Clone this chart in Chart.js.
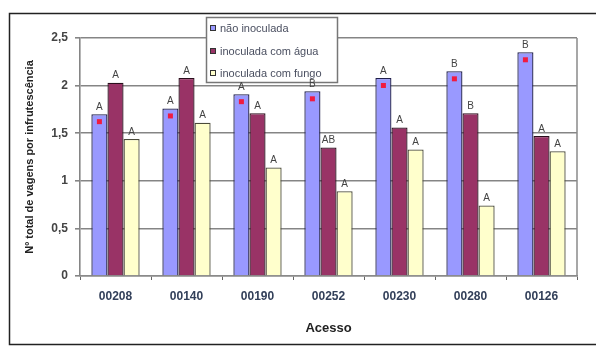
<!DOCTYPE html>
<html>
<head>
<meta charset="utf-8">
<script src="https://cdn.jsdelivr.net/npm/chart.js@4"></script>
<style>
  html, body { margin: 0; padding: 0; background: #fff; }
  #wrap { width: 596px; height: 347px; }
</style>
</head>
<body>
<div id="wrap"><canvas id="c" width="596" height="347"></canvas></div>
<script>
// Acessos avaliados
const categories = ['00208', '00140', '00190', '00252', '00230', '00280', '00126'];

// Nº total de vagens por infrutescência, por tratamento
const naoInoculada   = [1.70, 1.76, 1.91, 1.94, 2.08, 2.15, 2.35];
const inoculadaAgua  = [2.03, 2.08, 1.71, 1.35, 1.56, 1.71, 1.47];
const inoculadaFungo = [1.44, 1.61, 1.14, 0.89, 1.33, 0.74, 1.31];

// Letras do teste de médias, acima de cada barra
const letrasNao   = ['A', 'A', 'A', 'B', 'A', 'B', 'B'];
const letrasAgua  = ['A', 'A', 'A', 'AB', 'A', 'B', 'A'];
const letrasFungo = ['A', 'A', 'A', 'A', 'A', 'A', 'A'];

// Diferença significativa (marca vermelha) na barra "não inoculada"
const marcaNao = [true, true, true, true, true, true, true];

const seriesNames = ['não inoculada', 'inoculada com água', 'inoculada com fungo'];
const yTicks = [0, 0.5, 1, 1.5, 2, 2.5];

const fills   = ['#9999ff', '#993366', '#ffffcc'];
const borders = ['#1f1f4a', '#2a0e1c', '#4a4a3a'];

const letterSets = [letrasNao, letrasAgua, letrasFungo];

const decorations = {
  id: 'decorations',
  beforeDraw(chart) {
    const ctx = chart.ctx;
    ctx.save();
    ctx.fillStyle = '#ffffff';
    ctx.fillRect(0, 0, chart.width, chart.height);
    ctx.restore();
  },
  afterDraw(chart) {
    const ctx = chart.ctx;
    const area = chart.chartArea;
    ctx.save();

    // right edge of the plot frame
    ctx.strokeStyle = '#8a8a8a';
    ctx.lineWidth = 1.5;
    ctx.beginPath();
    ctx.moveTo(area.right, area.top);
    ctx.lineTo(area.right, area.bottom);
    ctx.stroke();

    // legend box
    const lx = 206.5, ly = 17.5, lw = 131, lh = 65;
    ctx.fillStyle = '#ffffff';
    ctx.fillRect(lx, ly, lw, lh);
    ctx.strokeStyle = '#777';
    ctx.lineWidth = 1.5;
    ctx.strokeRect(lx, ly, lw, lh);
    ctx.font = '11px Arial, "Liberation Sans", sans-serif';
    ctx.textAlign = 'left';
    ctx.textBaseline = 'middle';
    const rowY = [28, 51, 73];
    seriesNames.forEach((name, k) => {
      ctx.fillStyle = fills[k];
      ctx.fillRect(210, rowY[k] - 3, 6, 6);
      ctx.strokeStyle = '#333';
      ctx.lineWidth = 1;
      ctx.strokeRect(210.5, rowY[k] - 2.5, 5, 5);
      ctx.fillStyle = '#4a4f60';
      ctx.fillText(name, 220, rowY[k] + 0.5);
    });

    // letters above bars
    ctx.font = '10px Arial, "Liberation Sans", sans-serif';
    ctx.fillStyle = '#444';
    ctx.textAlign = 'center';
    ctx.textBaseline = 'bottom';
    chart.data.datasets.forEach((ds, di) => {
      const meta = chart.getDatasetMeta(di);
      meta.data.forEach((bar, i) => {
        ctx.fillText(letterSets[di][i], bar.x, bar.y - 2);
      });
    });

    // red marks on the "não inoculada" bars
    const meta0 = chart.getDatasetMeta(0);
    ctx.fillStyle = '#f01c40';
    meta0.data.forEach((bar, i) => {
      if (!marcaNao[i]) return;
      ctx.fillRect(bar.x - 2.5, bar.y + 5, 5, 5);
    });

    // outer frame
    ctx.strokeStyle = '#222';
    ctx.lineWidth = 1.5;
    ctx.beginPath();
    ctx.moveTo(chart.width + 2, 13.5);
    ctx.lineTo(9.5, 13.5);
    ctx.lineTo(9.5, 344.5);
    ctx.lineTo(chart.width + 2, 344.5);
    ctx.stroke();

    ctx.restore();
  }
};

new Chart(document.getElementById('c'), {
  type: 'bar',
  data: {
    labels: categories,
    datasets: [naoInoculada, inoculadaAgua, inoculadaFungo].map((vals, k) => ({
      label: seriesNames[k],
      data: vals,
      backgroundColor: fills[k],
      borderColor: borders[k],
      borderWidth: 1.3,
      borderSkipped: 'bottom',
      categoryPercentage: 0.68,
      barPercentage: 1.0
    }))
  },
  options: {
    responsive: false,
    animation: false,
    devicePixelRatio: 1,
    layout: { padding: { top: 38, right: 19, bottom: 0, left: 0 } },
    plugins: {
      legend: { display: false },
      tooltip: { enabled: false }
    },
    scales: {
      x: {
        offset: true,
        grid: {
          display: true,
          offset: true,
          drawOnChartArea: false,
          drawTicks: true,
          tickLength: 4,
          color: '#666'
        },
        border: { display: true, color: '#8a8a8a', width: 1.5 },
        ticks: {
          color: '#33405a',
          font: { family: 'Arial, "Liberation Sans", sans-serif', size: 12, weight: 'bold' },
          padding: 9
        },
        title: {
          display: true,
          text: 'Acesso',
          color: '#222',
          font: { family: 'Arial, "Liberation Sans", sans-serif', size: 13, weight: 'bold' },
          padding: { top: 0, bottom: 11 }
        },
        afterFit(scale) { scale.height = 71; }
      },
      y: {
        min: 0,
        max: 2.5,
        afterBuildTicks(scale) { scale.ticks = yTicks.map(v => ({ value: v })); },
        grid: {
          color: '#858585',
          lineWidth: 1.6,
          drawTicks: true,
          tickLength: 5
        },
        border: { display: true, color: '#858585', width: 1.6 },
        ticks: {
          color: '#444',
          font: { family: 'Arial, "Liberation Sans", sans-serif', size: 12, weight: 'bold' },
          padding: 7,
          callback: v => String(v).replace('.', ',')
        },
        title: {
          display: true,
          text: 'Nº total de vagens por infrutescência',
          color: '#222',
          font: { family: 'Arial, "Liberation Sans", sans-serif', size: 11, weight: 'bold' },
          padding: { top: 23, bottom: 0 }
        },
        afterFit(scale) { scale.width = 80; }
      }
    }
  },
  plugins: [decorations]
});
</script>
</body>
</html>
